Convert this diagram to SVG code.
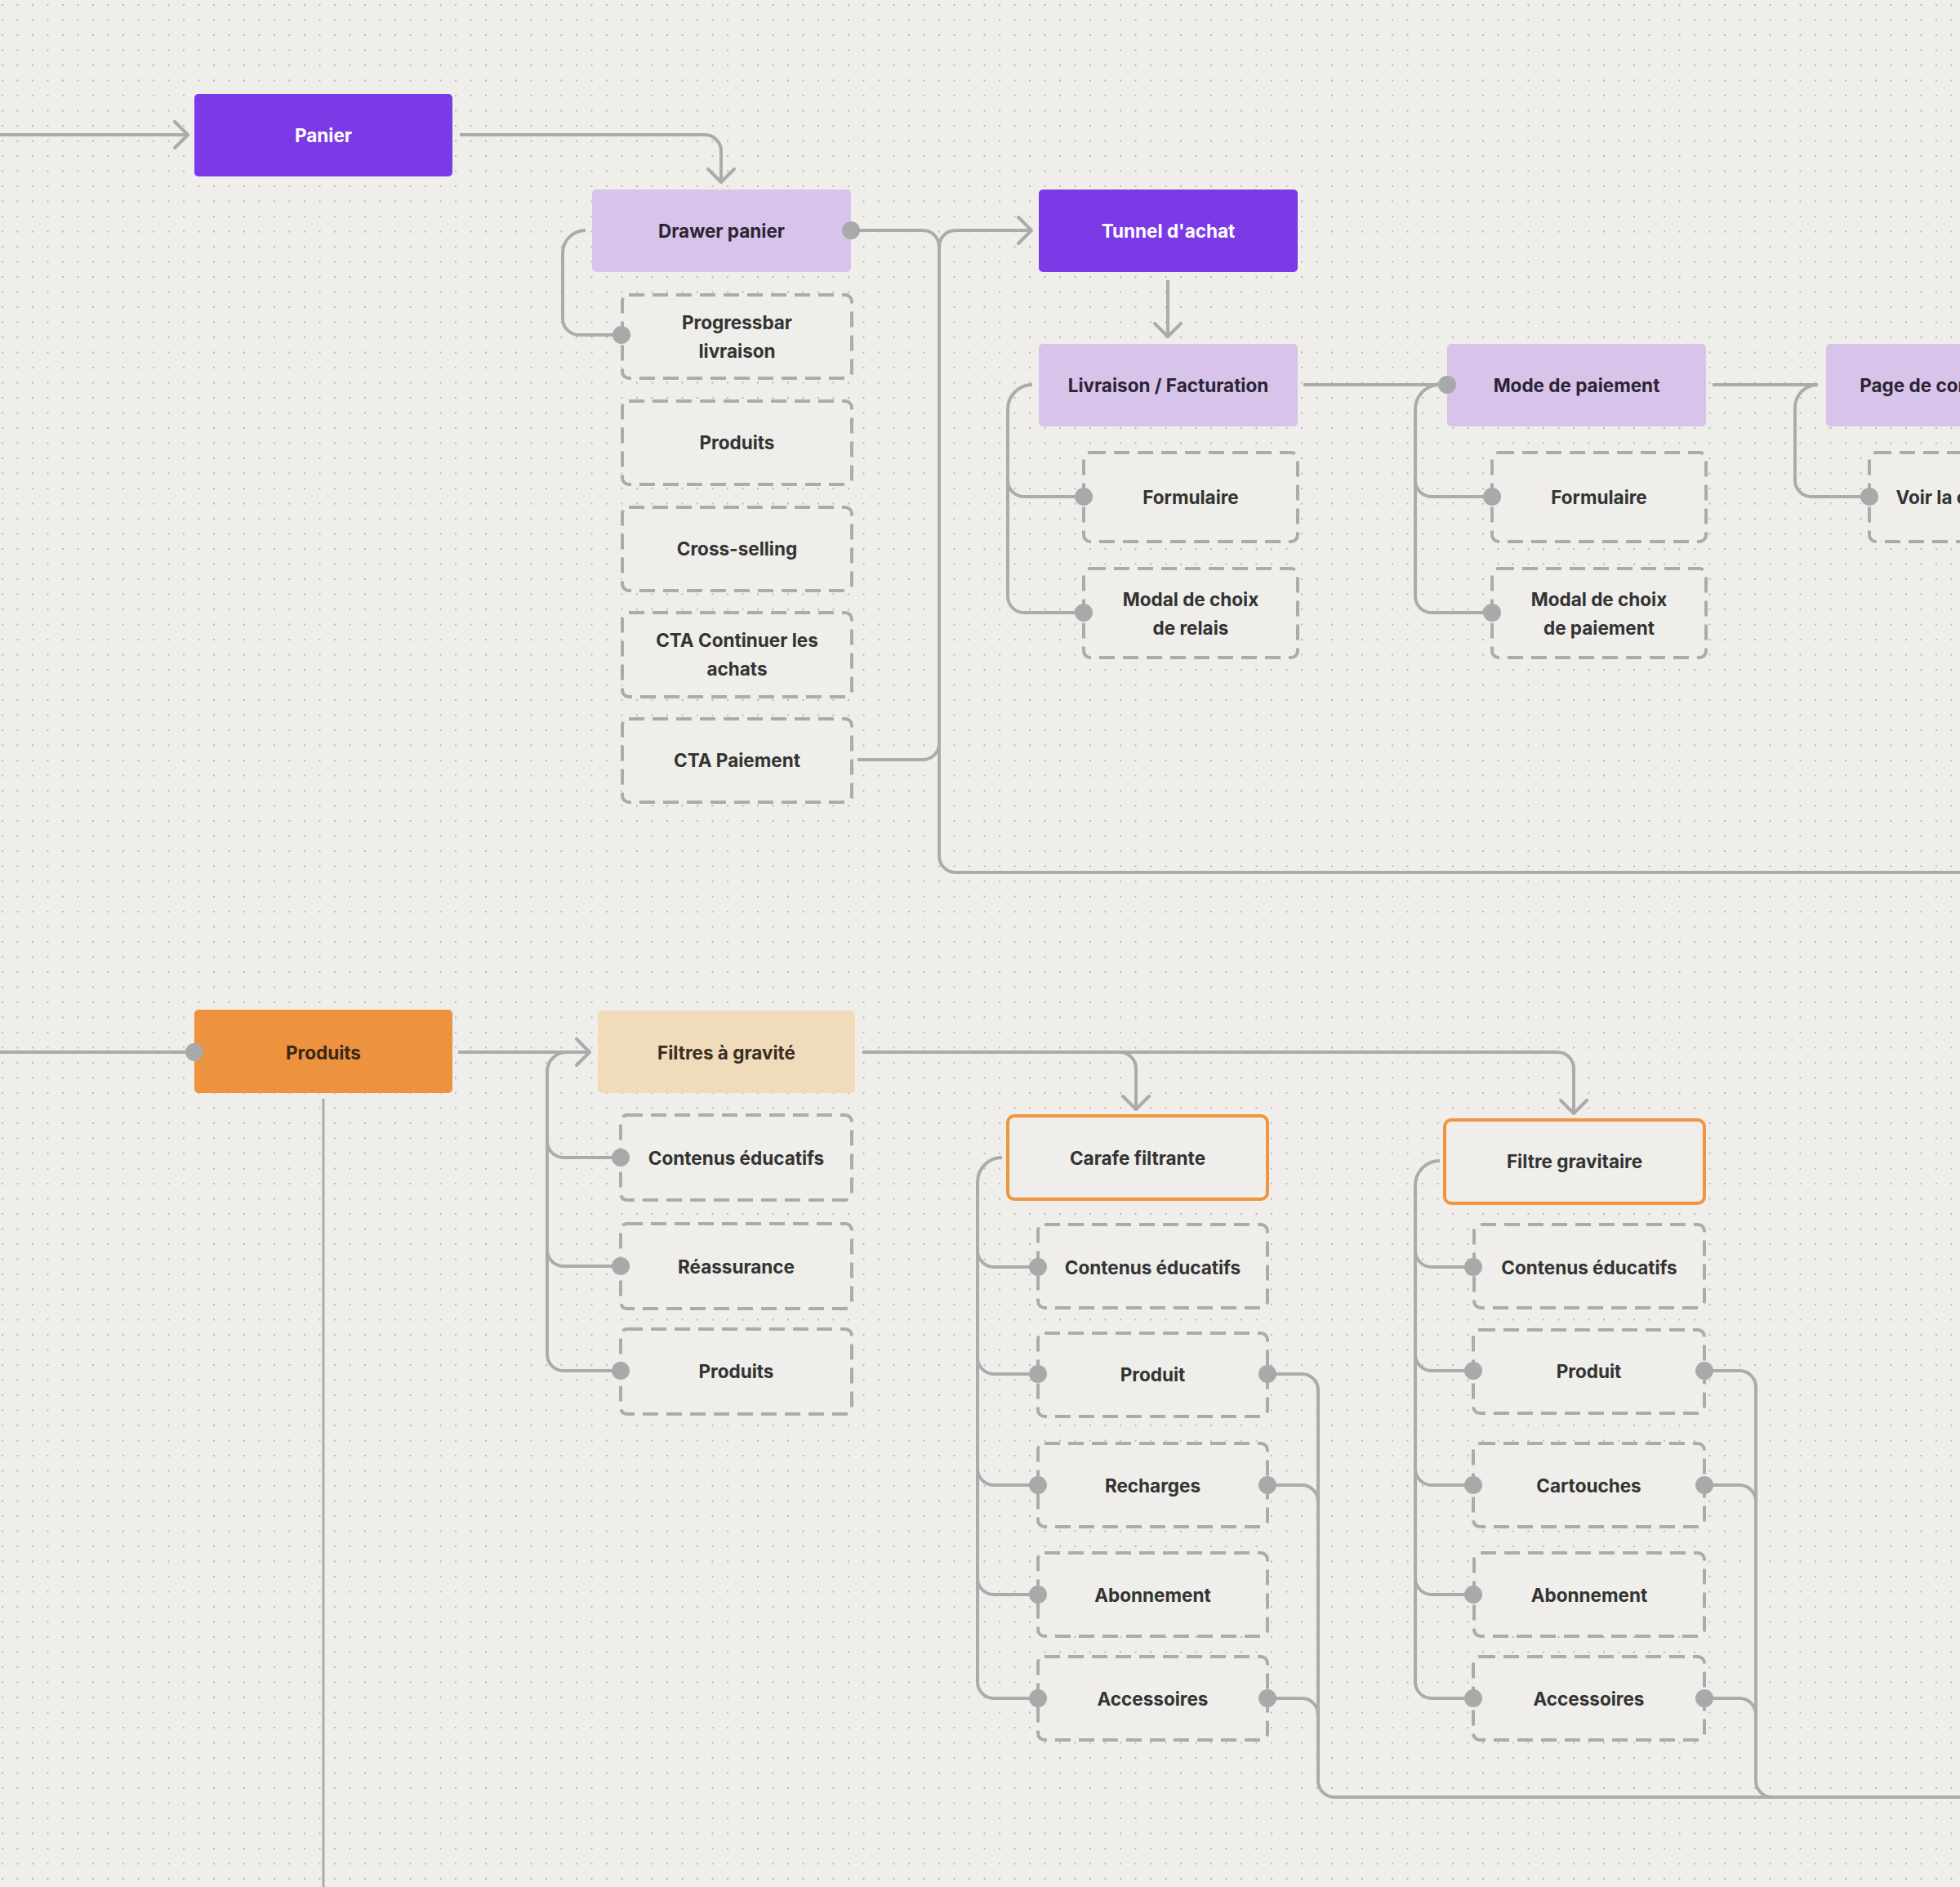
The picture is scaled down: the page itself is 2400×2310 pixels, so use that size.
<svg xmlns="http://www.w3.org/2000/svg" width="2400" height="2310" viewBox="0 0 2400 2310">
<defs>
<pattern id="grid" width="18.5" height="18.5" patternUnits="userSpaceOnUse" x="2" y="5"><circle cx="1" cy="1" r="1.1" fill="#B4B4B2"/></pattern>
<marker id="arr" viewBox="0 0 22 36" refX="19" refY="18" markerWidth="22" markerHeight="36" orient="auto" markerUnits="userSpaceOnUse"><path d="M3,2 L19,18 L3,34" fill="none" stroke="#ABABAB" stroke-width="4" stroke-linecap="round" stroke-linejoin="round"/></marker>
<style>
text{font-family:Inter,"Liberation Sans",Arial,sans-serif;font-size:22.5px;font-weight:650;text-anchor:middle;dominant-baseline:central}
.main rect{fill:#7B3AE5}
.main text{fill:#FFFFFF}
.sub rect{fill:#D8C3EA}
.sub text{fill:#2B2435}
.leaf rect{fill:#EFEEEB;stroke:#ABABAB;stroke-width:4;stroke-dasharray:19 10}
.leaf text{fill:#333333}
.cat rect{fill:#ED923E}
.cat text{fill:#3A2716}
.beige rect{fill:#F0DCBA}
.beige text{fill:#3A2E22}
.prod rect{fill:#EFEEEB;stroke:#F0953F;stroke-width:4}
.prod text{fill:#333333}
.conn path{fill:none;stroke:#ABABAB;stroke-width:4}
.conn circle{fill:#A9A9A9}
</style>
</defs>
<rect width="2400" height="2310" fill="#EFEEEB"/>
<rect width="2400" height="2310" fill="url(#grid)"/>

<g id="nodes">
<g id="panier" class="main"><rect x="238" y="115" width="316" height="101" rx="5"/><text x="396" y="165">Panier</text></g>
<g id="drawer-panier" class="sub"><rect x="725" y="232" width="317" height="101" rx="5"/><text x="883.5" y="282">Drawer panier</text></g>
<g id="progressbar" class="leaf"><rect x="762" y="361" width="281" height="102" rx="8"/><text x="902.5" y="394">Progressbar</text><text x="902.5" y="429">livraison</text></g>
<g id="drawer-produits" class="leaf"><rect x="762" y="491" width="281" height="102" rx="8"/><text x="902.5" y="541">Produits</text></g>
<g id="cross-selling" class="leaf"><rect x="762" y="621" width="281" height="102" rx="8"/><text x="902.5" y="671">Cross-selling</text></g>
<g id="cta-continuer" class="leaf"><rect x="762" y="750" width="281" height="103" rx="8"/><text x="902.5" y="783">CTA Continuer les</text><text x="902.5" y="818">achats</text></g>
<g id="cta-paiement" class="leaf"><rect x="762" y="880" width="281" height="102" rx="8"/><text x="902.5" y="930">CTA Paiement</text></g>

<g id="tunnel" class="main"><rect x="1272" y="232" width="317" height="101" rx="5"/><text x="1430.5" y="282">Tunnel d'achat</text></g>
<g id="livraison" class="sub"><rect x="1272" y="421" width="317" height="101" rx="5"/><text x="1430.5" y="471">Livraison / Facturation</text></g>
<g id="liv-formulaire" class="leaf"><rect x="1327" y="554" width="262" height="109" rx="8"/><text x="1458" y="608">Formulaire</text></g>
<g id="liv-modal" class="leaf"><rect x="1327" y="696" width="262" height="109" rx="8"/><text x="1458" y="733">Modal de choix</text><text x="1458" y="768">de relais</text></g>
<g id="mode-paiement" class="sub"><rect x="1772" y="421" width="317" height="101" rx="5"/><text x="1930.5" y="471">Mode de paiement</text></g>
<g id="mode-formulaire" class="leaf"><rect x="1827" y="554" width="262" height="109" rx="8"/><text x="1958" y="608">Formulaire</text></g>
<g id="mode-modal" class="leaf"><rect x="1827" y="696" width="262" height="109" rx="8"/><text x="1958" y="733">Modal de choix</text><text x="1958" y="768">de paiement</text></g>
<g id="page-confirmation" class="sub"><rect x="2236" y="421" width="317" height="101" rx="5"/><text x="2394.5" y="471">Page de confirmation</text></g>
<g id="voir-commande" class="leaf"><rect x="2289" y="554" width="262" height="109" rx="8"/><text x="2420" y="608">Voir la commande</text></g>

<g id="produits" class="cat"><rect x="238" y="1236" width="316" height="102" rx="5"/><text x="396" y="1288">Produits</text></g>
<g id="filtres-gravite" class="beige"><rect x="732" y="1237" width="315" height="101" rx="5"/><text x="889.5" y="1288">Filtres à gravité</text></g>
<g id="fg-contenus" class="leaf"><rect x="760" y="1365" width="283" height="104" rx="8"/><text x="901.5" y="1417">Contenus éducatifs</text></g>
<g id="fg-reassurance" class="leaf"><rect x="760" y="1498" width="283" height="104" rx="8"/><text x="901.5" y="1550">Réassurance</text></g>
<g id="fg-produits" class="leaf"><rect x="760" y="1627" width="283" height="104" rx="8"/><text x="901.5" y="1678">Produits</text></g>

<g id="carafe" class="prod"><rect x="1234" y="1366" width="318" height="102" rx="8"/><text x="1393" y="1417">Carafe filtrante</text></g>
<g id="cf-contenus" class="leaf"><rect x="1271" y="1499" width="281" height="102" rx="8"/><text x="1411.5" y="1551">Contenus éducatifs</text></g>
<g id="cf-produit" class="leaf"><rect x="1271" y="1632" width="281" height="102" rx="8"/><text x="1411.5" y="1682">Produit</text></g>
<g id="cf-recharges" class="leaf"><rect x="1271" y="1767" width="281" height="102" rx="8"/><text x="1411.5" y="1818">Recharges</text></g>
<g id="cf-abonnement" class="leaf"><rect x="1271" y="1901" width="281" height="102" rx="8"/><text x="1411.5" y="1952">Abonnement</text></g>
<g id="cf-accessoires" class="leaf"><rect x="1271" y="2028" width="281" height="102" rx="8"/><text x="1411.5" y="2079">Accessoires</text></g>

<g id="filtre-gravitaire" class="prod"><rect x="1769" y="1371" width="318" height="102" rx="8"/><text x="1928" y="1421">Filtre gravitaire</text></g>
<g id="fgr-contenus" class="leaf"><rect x="1805" y="1499" width="282" height="102" rx="8"/><text x="1946" y="1551">Contenus éducatifs</text></g>
<g id="fgr-produit" class="leaf"><rect x="1804" y="1628" width="283" height="102" rx="8"/><text x="1945.5" y="1678">Produit</text></g>
<g id="fgr-cartouches" class="leaf"><rect x="1804" y="1767" width="283" height="102" rx="8"/><text x="1945.5" y="1818">Cartouches</text></g>
<g id="fgr-abonnement" class="leaf"><rect x="1805" y="1901" width="282" height="102" rx="8"/><text x="1946" y="1952">Abonnement</text></g>
<g id="fgr-accessoires" class="leaf"><rect x="1804" y="2028" width="283" height="102" rx="8"/><text x="1945.5" y="2079">Accessoires</text></g>
</g>

<g id="connectors" class="conn">
<path d="M0,165 H230" marker-end="url(#arr)"/>
<path d="M563,165 H863 A20,20 0 0 1 883,185 V223" marker-end="url(#arr)"/>
<path d="M717,282 A28,28 0 0 0 689,310 V390 A20,20 0 0 0 709,410 H761"/>
<path d="M1042,282 H1130 A20,20 0 0 1 1150,302 V1048 A20,20 0 0 0 1170,1068 H2400"/>
<path d="M1150,302 A20,20 0 0 1 1170,282 H1263" marker-end="url(#arr)"/>
<path d="M1050,930 H1130 A20,20 0 0 0 1150,910"/>
<path d="M1430,343 V412" marker-end="url(#arr)"/>
<path d="M1264,471 A30,30 0 0 0 1234,501 V730 A20,20 0 0 0 1254,750 H1327 M1234,588 A20,20 0 0 0 1254,608 H1327"/>
<path d="M1596,471 H1772"/>
<path d="M1772,471 H1763 A30,30 0 0 0 1733,501 V730 A20,20 0 0 0 1753,750 H1827 M1733,588 A20,20 0 0 0 1753,608 H1827"/>
<path d="M2097,471 H2226 A28,28 0 0 0 2198,499 V588 A20,20 0 0 0 2218,608 H2289"/>

<path d="M0,1288 H238"/>
<path d="M396,1345 V2310" style="stroke-width:3"/>
<path d="M561,1288 H722" marker-end="url(#arr)"/>
<path d="M694,1288 A24,24 0 0 0 670,1312 V1658 A20,20 0 0 0 690,1678 H760 M670,1397 A20,20 0 0 0 690,1417 H760 M670,1530 A20,20 0 0 0 690,1550 H760"/>
<path d="M1056,1288 H1371 A20,20 0 0 1 1391,1308 V1358" marker-end="url(#arr)"/>
<path d="M1365,1288 H1907 A20,20 0 0 1 1927,1308 V1363" marker-end="url(#arr)"/>
<path d="M1227,1417 A30,30 0 0 0 1197,1447 V2059 A20,20 0 0 0 1217,2079 H1271 M1197,1531 A20,20 0 0 0 1217,1551 H1271 M1197,1662 A20,20 0 0 0 1217,1682 H1271 M1197,1798 A20,20 0 0 0 1217,1818 H1271 M1197,1932 A20,20 0 0 0 1217,1952 H1271"/>
<path d="M1552,1682 H1594 A20,20 0 0 1 1614,1702 V2180 A20,20 0 0 0 1634,2200 H2400 M1552,1818 H1594 A20,20 0 0 1 1614,1838 M1552,2079 H1594 A20,20 0 0 1 1614,2099"/>
<path d="M1763,1421 A30,30 0 0 0 1733,1451 V2059 A20,20 0 0 0 1753,2079 H1804 M1733,1531 A20,20 0 0 0 1753,1551 H1804 M1733,1658 A20,20 0 0 0 1753,1678 H1804 M1733,1798 A20,20 0 0 0 1753,1818 H1804 M1733,1932 A20,20 0 0 0 1753,1952 H1804"/>
<path d="M2087,1678 H2130 A20,20 0 0 1 2150,1698 V2180 A20,20 0 0 0 2170,2200 M2087,1818 H2130 A20,20 0 0 1 2150,1838 M2087,2079 H2130 A20,20 0 0 1 2150,2099"/>

<circle cx="1042" cy="282" r="11"/>
<circle cx="761" cy="410" r="11"/>
<circle cx="1327" cy="608" r="11"/>
<circle cx="1327" cy="750" r="11"/>
<circle cx="1772" cy="471" r="11"/>
<circle cx="1827" cy="608" r="11"/>
<circle cx="1827" cy="750" r="11"/>
<circle cx="2289" cy="608" r="11"/>
<circle cx="238" cy="1288" r="11"/>
<circle cx="760" cy="1417" r="11"/>
<circle cx="760" cy="1550" r="11"/>
<circle cx="760" cy="1678" r="11"/>
<circle cx="1271" cy="1551" r="11"/>
<circle cx="1271" cy="1682" r="11"/>
<circle cx="1271" cy="1818" r="11"/>
<circle cx="1271" cy="1952" r="11"/>
<circle cx="1271" cy="2079" r="11"/>
<circle cx="1552" cy="1682" r="11"/>
<circle cx="1552" cy="1818" r="11"/>
<circle cx="1552" cy="2079" r="11"/>
<circle cx="1804" cy="1551" r="11"/>
<circle cx="1804" cy="1678" r="11"/>
<circle cx="1804" cy="1818" r="11"/>
<circle cx="1804" cy="1952" r="11"/>
<circle cx="1804" cy="2079" r="11"/>
<circle cx="2087" cy="1678" r="11"/>
<circle cx="2087" cy="1818" r="11"/>
<circle cx="2087" cy="2079" r="11"/>
</g>
</svg>
